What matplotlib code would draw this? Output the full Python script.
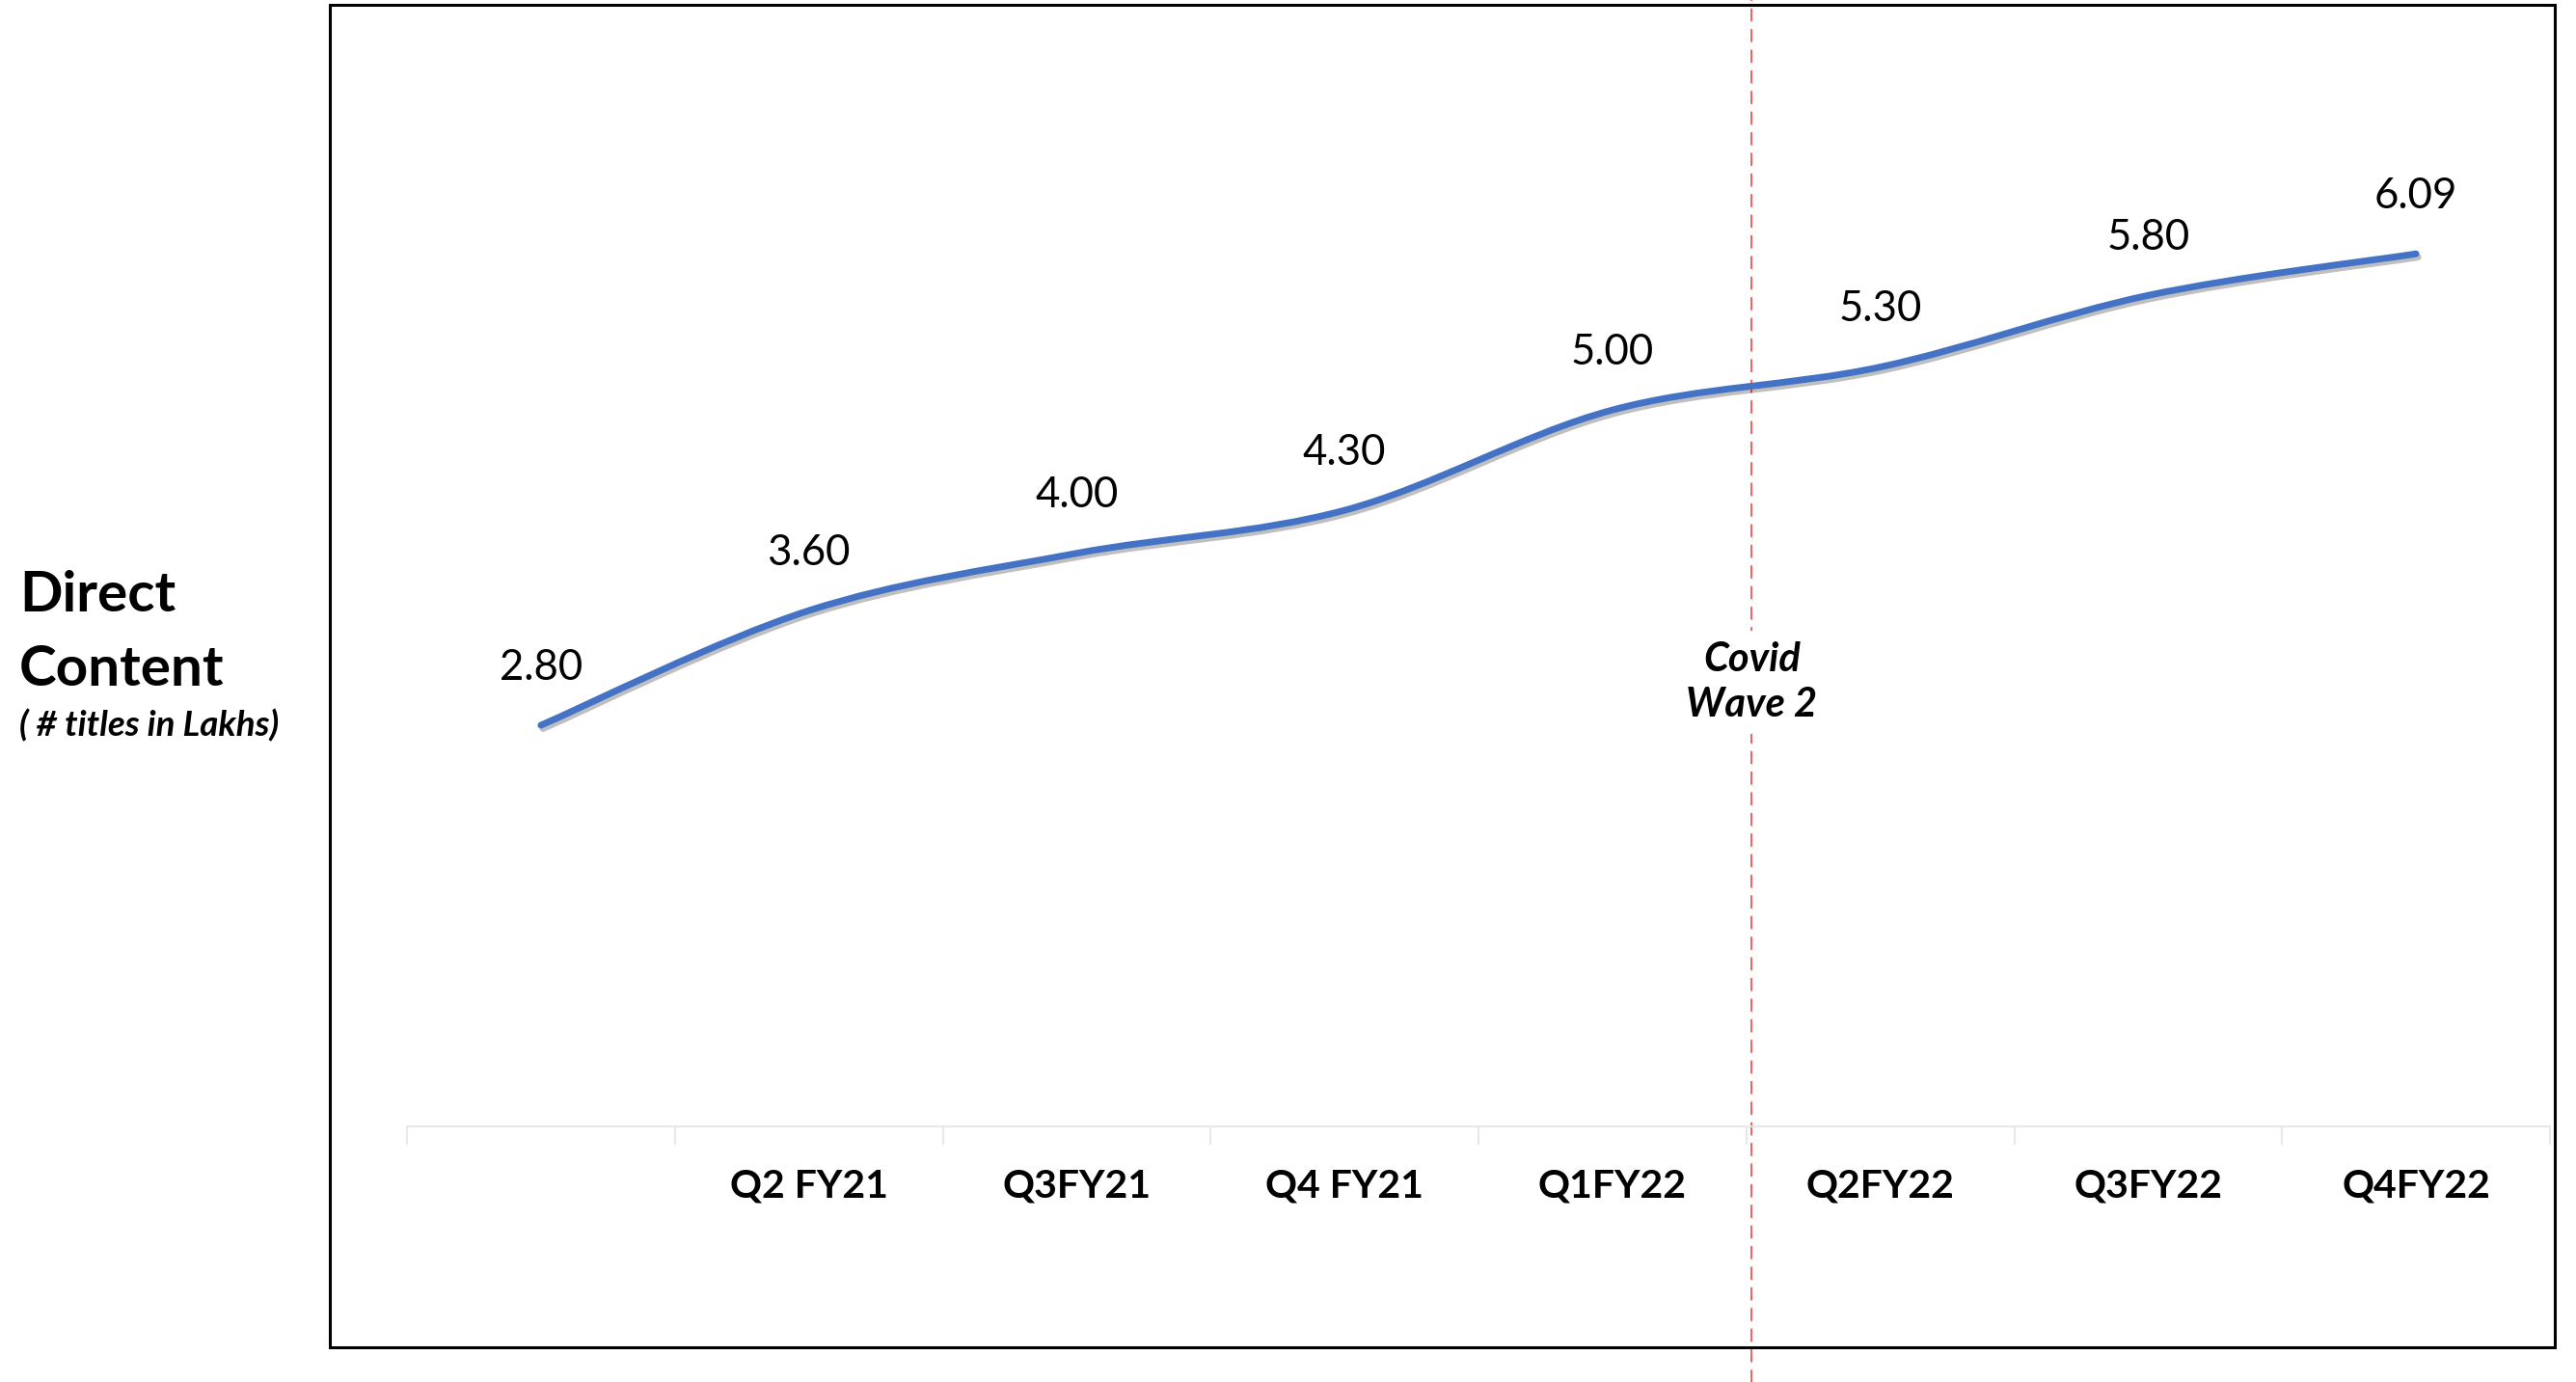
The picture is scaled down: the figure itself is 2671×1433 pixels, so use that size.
import numpy as np
import matplotlib.pyplot as plt
from matplotlib.path import Path
from matplotlib.patches import PathPatch, Rectangle
from matplotlib.ticker import FixedLocator
from matplotlib import patheffects as pe

plt.rcParams['font.family'] = ['Lato', 'DejaVu Sans']

quarters = ['', 'Q2 FY21', 'Q3FY21', 'Q4 FY21', 'Q1FY22', 'Q2FY22', 'Q3FY22', 'Q4FY22']
titles_lakhs = [2.80, 3.60, 4.00, 4.30, 5.00, 5.30, 5.80, 6.09]
covid_text = 'Covid\nWave 2'

W, H = 2671, 1433
fig = plt.figure(figsize=(W / 100, H / 100), dpi=100)


def fx(px):
    return px / W


def fy(py):
    return 1 - py / H


# plot area: y=0 sits on the pale axis line
ax = fig.add_axes([fx(422), fy(1168), (2644 - 422) / W, (1168 - 128) / H])
ax.set_xlim(-0.5, len(quarters) - 0.5)
ax.set_ylim(0, 7)

# smoothed line (bezier through the points, like Excel's smoothed line)
pts = np.column_stack([np.arange(len(titles_lakhs), dtype=float), titles_lakhs])
verts = [pts[0]]
codes = [Path.MOVETO]
n = len(pts)
for i in range(n - 1):
    p0 = pts[max(i - 1, 0)]
    p1 = pts[i]
    p2 = pts[i + 1]
    p3 = pts[min(i + 2, n - 1)]
    verts += [p1 + (p2 - p0) / 6, p2 - (p3 - p1) / 6, p2]
    codes += [Path.CURVE4] * 3
curve = PathPatch(Path(verts, codes), fill=False, edgecolor='#4472C4', lw=5,
                  capstyle='round', joinstyle='round', transform=ax.transData, zorder=3)
curve.set_path_effects([pe.SimpleLineShadow(offset=(1.5, -2.5), shadow_color='black', alpha=0.25),
                        pe.Normal()])
ax.add_patch(curve)

for i, v in enumerate(titles_lakhs):
    ax.annotate(f'{v:.2f}', (i, v), xytext=(0, 43), textcoords='offset points',
                ha='center', va='center', fontsize=31.5, color='black')

# axis styling
for s in ['top', 'left', 'right']:
    ax.spines[s].set_visible(False)
ax.spines['bottom'].set_color('#E8E8E8')
ax.spines['bottom'].set_linewidth(1.5)
ax.set_yticks([])
ax.set_xticks(range(len(quarters)))
ax.set_xticklabels(quarters, fontsize=29.5, fontweight='bold')
ax.xaxis.set_minor_locator(FixedLocator(np.arange(-0.5, len(quarters), 1.0)))
ax.tick_params(axis='x', which='major', length=0, pad=31)
ax.tick_params(axis='x', which='minor', length=14, width=1.5, color='#E8E8E8')

# covid marker
ax.axvline(4.52, ymin=-0.26, ymax=1.13, color='#FF5A5A', lw=1.4, ls=(0, (7, 4)),
           clip_on=False, zorder=1)
ax.text(4.52, 3.1, covid_text, ha='center', va='center', fontsize=30,
        fontweight='bold', style='italic', linespacing=1.3,
        bbox=dict(facecolor='white', edgecolor='none', pad=8), zorder=2)

# outer frame
fig.add_artist(Rectangle((fx(342), fy(1397)), (2649 - 342) / W, (1397 - 5) / H,
                         transform=fig.transFigure, fill=False, edgecolor='black', lw=2.2))

# y label
fig.text(fx(20), fy(618), 'Direct', ha='left', va='center', fontsize=42, fontweight='bold')
fig.text(fx(20), fy(695), 'Content', ha='left', va='center', fontsize=42, fontweight='bold')
fig.text(fx(20), fy(752), '( # titles in Lakhs)', ha='left', va='center', fontsize=26.5,
         fontweight='bold', style='italic')

fig.savefig('out.png', dpi=100, facecolor='white')
